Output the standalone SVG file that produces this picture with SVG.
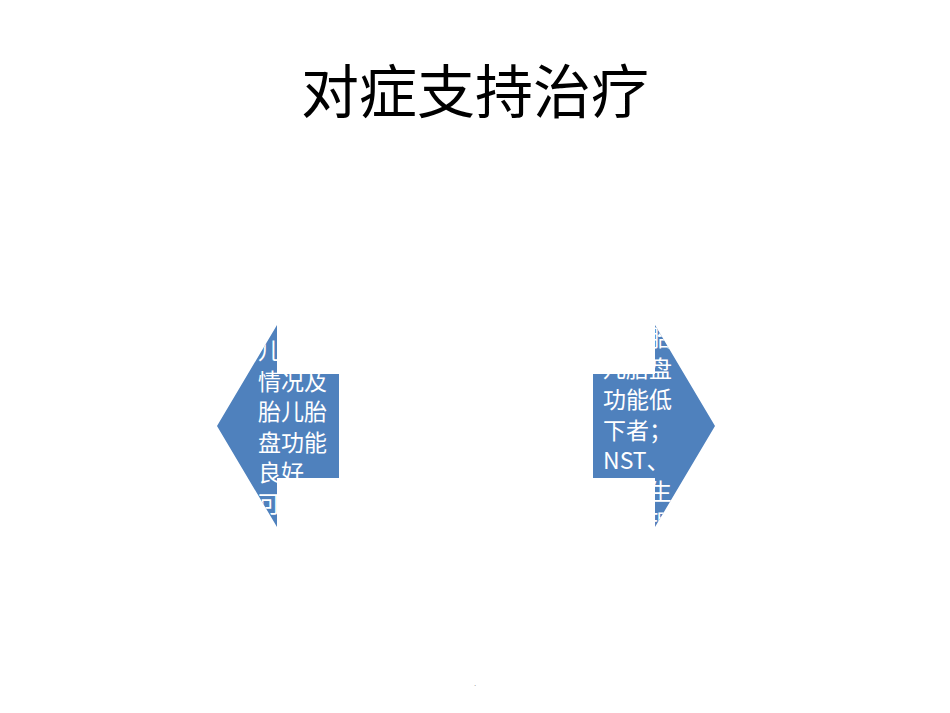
<svg xmlns="http://www.w3.org/2000/svg" width="950" height="713" viewBox="0 0 950 713">
<style>
.title{font-family:"Noto Sans CJK SC","Noto Sans",sans-serif;font-size:58px;fill:#000;}
.arrow{fill:#4F81BD;}
.lbl{font-family:"Noto Sans CJK SC","Noto Sans",sans-serif;font-size:23px;fill:#fff;}
</style>
<defs>
<clipPath id="clipL"><polygon points="217,426 277,325 277,374 339,374 339,478 277,478 277,527"/></clipPath>
<clipPath id="clipR"><polygon points="715,426 655,325 655,374 593,374 593,478 655,478 655,527"/></clipPath>
</defs>
<rect width="950" height="713" fill="#fff"/>
<g id="title"><text class="title" x="475" y="113" text-anchor="middle">对症支持治疗</text></g>
<g id="left-arrow">
<polygon class="arrow" points="217,426 277,325 277,374 339,374 339,478 277,478 277,527"/>
<g clip-path="url(#clipL)">
<text class="lbl" x="258" y="359">儿</text>
<text class="lbl" x="258" y="390">情况及</text>
<text class="lbl" x="258" y="420">胎儿胎</text>
<text class="lbl" x="258" y="451">盘功能</text>
<text class="lbl" x="258" y="481">良好</text>
<text class="lbl" x="258" y="512">可</text>
</g>
</g>
<g id="right-arrow">
<polygon class="arrow" points="715,426 655,325 655,374 593,374 593,478 655,478 655,527"/>
<g clip-path="url(#clipR)">
<text class="lbl" x="649" y="346">胎</text>
<text class="lbl" x="603" y="377">儿胎盘</text>
<text class="lbl" x="603" y="408">功能低</text>
<text class="lbl" x="603" y="439">下者；</text>
<text class="lbl" x="603" y="469">NST、</text>
<text class="lbl" x="649" y="500">生</text>
<text class="lbl" x="649" y="531">理</text>
</g>
</g>
<g id="connectors"></g>
<g id="footer"><text x="475" y="686" text-anchor="middle" font-family="Liberation Sans, sans-serif" font-size="8" fill="#888">.</text></g>
</svg>
